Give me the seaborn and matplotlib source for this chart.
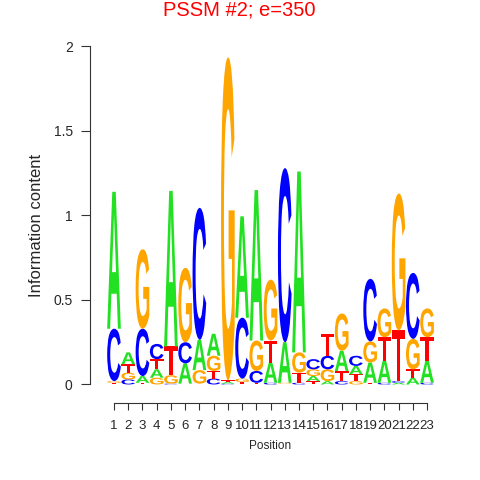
import numpy as np
import pandas as pd
import matplotlib
matplotlib.use("Agg")
import matplotlib.pyplot as plt
import seaborn as sns
from matplotlib.textpath import TextPath
from matplotlib.patches import PathPatch
from matplotlib.font_manager import FontProperties
from matplotlib.transforms import Affine2D

# Information content (bits) of each base at each motif position
positions = list(range(1, 24))
bits_A = [0.81, 0.07, 0.04, 0.05, 0.92, 0.12, 0.18, 0.13, 0.01, 0.60, 0.89, 0.12,
          0.24, 1.07, 0.03, 0.02, 0.12, 0.05, 0.12, 0.13, 0.01, 0.04, 0.13]
bits_C = [0.31, 0.03, 0.28, 0.09, 0.005, 0.125, 0.78, 0.035, 0.005, 0.36, 0.07, 0.01,
          1.03, 0.01, 0.06, 0.08, 0.02, 0.06, 0.37, 0.01, 0.01, 0.39, 0.01]
bits_G = [0.01, 0.04, 0.47, 0.04, 0.05, 0.44, 0.08, 0.09, 1.91, 0.02, 0.18, 0.36,
          0.005, 0.12, 0.04, 0.07, 0.22, 0.02, 0.125, 0.17, 0.81, 0.18, 0.17]
bits_T = [0.01, 0.05, 0.01, 0.06, 0.17, 0.005, 0.005, 0.045, 0.01, 0.015, 0.01, 0.13,
          0.005, 0.06, 0.02, 0.13, 0.06, 0.04, 0.01, 0.14, 0.30, 0.05, 0.14]

base_colors = {"A": "#22E022", "C": "#0000FF", "G": "#FFA500", "T": "#FF0000"}
y_ticks = [0, 0.5, 1, 1.5, 2]
y_tick_labels = ["0", "0.5", "1", "1.5", "2"]

df = pd.DataFrame({"A": bits_A, "C": bits_C, "G": bits_G, "T": bits_T}, index=positions)

sns.set_style("ticks")
plt.rcParams["font.family"] = ["Liberation Sans", "DejaVu Sans"]

glyph_font = FontProperties(family="Liberation Sans", weight="bold")
glyphs = {b: TextPath((0, 0), b, size=1, prop=glyph_font) for b in df.columns}


def draw_letter(ax, base, x, y0, h, w=0.96):
    path = glyphs[base]
    ext = path.get_extents()
    tr = (Affine2D().translate(-ext.x0, -ext.y0)
          .scale(w / ext.width, h / ext.height)
          .translate(x - w / 2, y0))
    ax.add_patch(PathPatch(tr.transform_path(path), fc=base_colors[base], ec="none", lw=0))


fig = plt.figure(figsize=(4.8, 4.8), dpi=100)
ax = fig.add_axes([90 / 480, 77 / 480, 350 / 480, 363 / 480])

# stack letters: smallest at the bottom, largest on top
for pos, row in df.iterrows():
    y = 0.0
    for base, h in row.sort_values().items():
        draw_letter(ax, base, pos, y, h)
        y += h

ax.set_xlim(-0.687, 23.91)
ax.set_ylim(-0.1095, 2.038)
ax.set_xticks(positions)
ax.set_xticklabels([str(p) for p in positions], fontsize=9.5)
ax.set_yticks(y_ticks)
ax.set_yticklabels(y_tick_labels, fontsize=10)
ax.tick_params(axis="y", length=6.5, width=0.8, pad=6, color="#333333")
ax.tick_params(axis="x", length=5, width=0.8, pad=7, color="#333333")
ax.set_xlabel("Position", fontsize=8.5)
ax.set_ylabel("Information content", fontsize=12)
ax.xaxis.set_label_coords(0.5 + (5 / 350), -0.102)
ax.yaxis.set_label_coords(-0.131, 0.49)
sns.despine(ax=ax, trim=True)
for side in ["left", "bottom"]:
    ax.spines[side].set_color("#333333")
    ax.spines[side].set_linewidth(0.8)

fig.text(239 / 480, 1 - 10 / 480, "PSSM #2; e=350", color="#FF0000",
         fontsize=14.5, ha="center", va="center")

fig.savefig("out.png", dpi=100)
